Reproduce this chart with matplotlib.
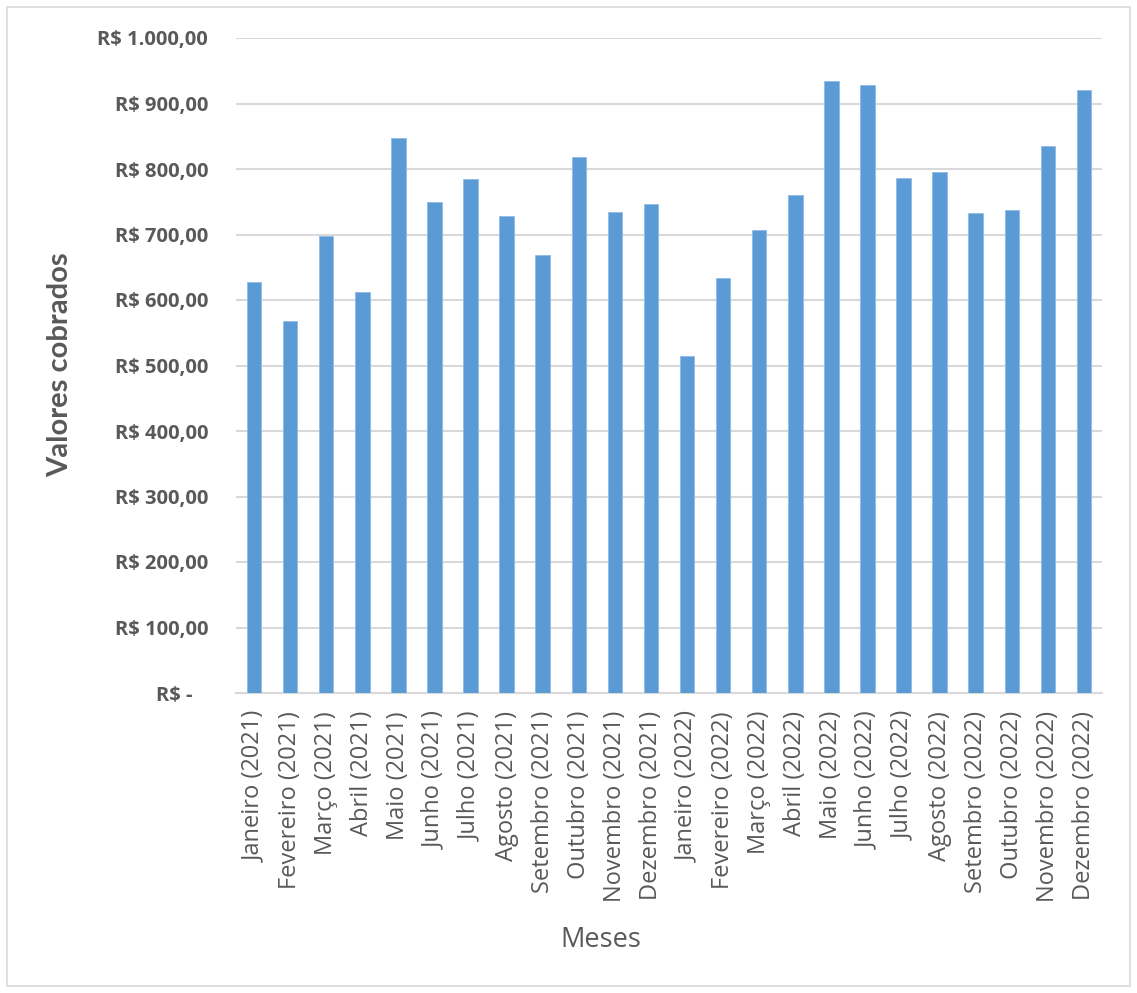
import matplotlib
matplotlib.use("Agg")
import matplotlib.pyplot as plt
from matplotlib.patches import Rectangle

plt.rcParams['font.family'] = ['Open Sans', 'DejaVu Sans']

months = ["Janeiro", "Fevereiro", "Março", "Abril", "Maio", "Junho", "Julho",
          "Agosto", "Setembro", "Outubro", "Novembro", "Dezembro"]
categories = [f"{m} (2021)" for m in months] + [f"{m} (2022)" for m in months]
values_2021 = [627, 568, 697, 612, 848, 749, 785, 728, 668, 819, 735, 746]
values_2022 = [514, 633, 707, 760, 934, 929, 787, 795, 733, 737, 835, 920]
values = values_2021 + values_2022
yticks = [0, 100, 200, 300, 400, 500, 600, 700, 800, 900, 1000]
ytick_labels = ["R$ -   ", "R$ 100,00", "R$ 200,00", "R$ 300,00", "R$ 400,00",
                "R$ 500,00", "R$ 600,00", "R$ 700,00", "R$ 800,00", "R$ 900,00",
                "R$ 1.000,00"]

W, H = 1137, 993
fig = plt.figure(figsize=(W / 100, H / 100), dpi=100)
ax = fig.add_axes([236 / W, 1 - 693 / H, (1102 - 236) / W, (693 - 38) / H])

text_color = "#595959"
grid_color = "#d9d9d9"

x = list(range(len(categories)))
ax.bar(x, values, width=0.4, color="#5B9BD5", edgecolor="#8fbbe6", linewidth=0.6, zorder=3)

ax.set_xlim(-0.5, len(categories) - 0.5)
ax.set_ylim(0, 1000)
ax.set_yticks(yticks)
ax.set_yticklabels(ytick_labels, fontsize=14.5, fontweight="bold", color=text_color)
ax.set_xticks(x)
ax.set_xticklabels(categories, rotation=90, fontsize=17, color=text_color)
ax.tick_params(axis="y", length=0, pad=20)
ax.tick_params(axis="x", length=0, pad=13)
ax.yaxis.grid(True, color=grid_color, linewidth=1.5, zorder=0)
ax.set_axisbelow(True)
for s in ["top", "right", "left"]:
    ax.spines[s].set_visible(False)
ax.spines["bottom"].set_color(grid_color)
ax.spines["bottom"].set_linewidth(1.5)

fig.text(60 / W, 1 - 365 / H, "Valores cobrados", fontsize=21, fontweight="bold",
         family=['Lato', 'DejaVu Sans'], color=text_color, rotation=90,
         ha="center", va="center")
fig.text(601 / W, 1 - 940 / H, "Meses", fontsize=19.5, color=text_color, ha="center", va="center")

fig.patches.append(Rectangle((7 / W, 7 / H), (1130 - 7) / W, (986 - 7) / H,
                             transform=fig.transFigure, fill=False,
                             edgecolor=grid_color, linewidth=1.2))

fig.savefig("out.png", dpi=100, facecolor="white")
